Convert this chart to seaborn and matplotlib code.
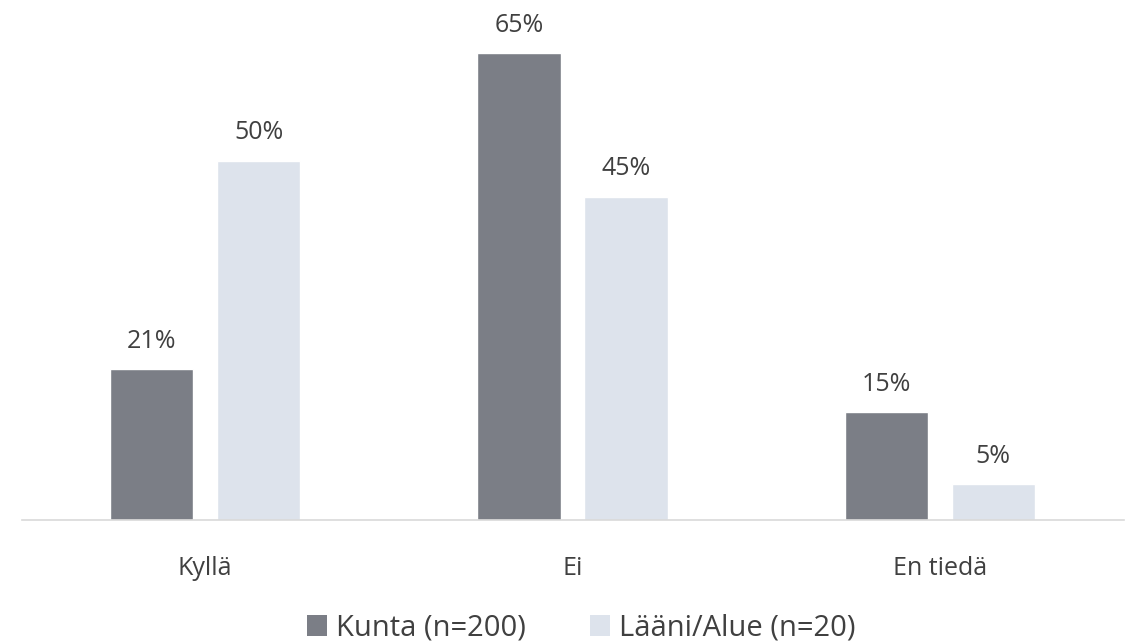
import matplotlib
matplotlib.use("Agg")
import matplotlib.pyplot as plt
import seaborn as sns
import pandas as pd
from matplotlib.patches import Patch

categories = ["Kyllä", "Ei", "En tiedä"]
series_names = ["Kunta (n=200)", "Lääni/Alue (n=20)"]
kunta = [21, 65, 15]
laani = [50, 45, 5]
colors = ["#7B7E86", "#DDE3EC"]

df = pd.DataFrame({
    "cat": categories * 2,
    "series": [series_names[0]] * 3 + [series_names[1]] * 3,
    "value": kunta + laani,
})

sns.set_theme(style="white")
plt.rcParams['font.family'] = ['Open Sans', 'DejaVu Sans']
text_color = "#404040"

fig = plt.figure(figsize=(11.25, 6.43), dpi=100)
ax = fig.add_axes([21.5 / 1125, 1 - 520 / 643, 1102 / 1125, 503 / 643])

sns.barplot(data=df, x="cat", y="value", hue="series", order=categories,
            hue_order=series_names, palette=colors, width=0.583, gap=0.224,
            ax=ax, legend=False, saturation=1)

for cont in ax.containers:
    ax.bar_label(cont, labels=[f"{v:.0f}%" for v in cont.datavalues],
                 padding=11, fontsize=18, color=text_color)

ax.set_xlim(-0.5, 2.5)
ax.set_ylim(0, 70)
ax.set_xlabel("")
ax.set_ylabel("")
ax.set_yticks([])
for s in ["top", "right", "left"]:
    ax.spines[s].set_visible(False)
ax.spines["bottom"].set_color("#D9D9D9")
ax.spines["bottom"].set_linewidth(1.2)
ax.tick_params(axis="x", length=0, pad=26, labelsize=18, labelcolor=text_color)

handles = [Patch(facecolor=c, edgecolor="none") for c in colors]
fig.legend(handles, series_names, loc="center", bbox_to_anchor=(581 / 1125, 1 - 628 / 643),
           ncol=2, frameon=False, fontsize=21, handlelength=0.7, handleheight=0.7,
           handletextpad=0.3, columnspacing=2.2, labelcolor=text_color)

fig.savefig("out.png", dpi=100)
